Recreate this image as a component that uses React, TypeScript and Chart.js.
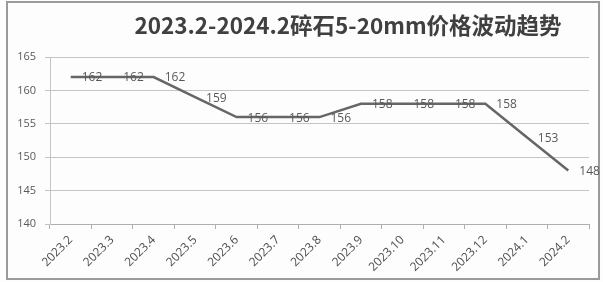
import { useEffect, useRef } from "react";
import { Chart, registerables } from "chart.js";

Chart.register(...registerables);

const titleText = "2023.2-2024.2碎石5-20mm价格波动趋势";
const categories = [
  "2023.2", "2023.3", "2023.4", "2023.5", "2023.6", "2023.7", "2023.8",
  "2023.9", "2023.10", "2023.11", "2023.12", "2024.1", "2024.2",
];
const prices = [162, 162, 162, 159, 156, 156, 156, 158, 158, 158, 158, 153, 148];
const yMin = 140;
const yMax = 165;
const yStep = 5;

const W = 603;
const H = 282;

export default function App() {
  const ref = useRef<HTMLCanvasElement | null>(null);

  useEffect(() => {
    const canvas = ref.current;
    if (!canvas) return;

    const framePlugin = {
      id: "frame",
      beforeDraw(chart: any) {
        const ctx = chart.ctx;
        ctx.save();
        ctx.fillStyle = "#fdfdfd";
        ctx.fillRect(0, 0, W, H);
        ctx.strokeStyle = "#9a9a9a";
        ctx.lineWidth = 2;
        ctx.strokeRect(7, 2, 592, 277);
        ctx.fillStyle = "#404040";
        ctx.font = "bold 22.5px 'Noto Sans CJK SC', sans-serif";
        ctx.textAlign = "center";
        ctx.textBaseline = "middle";
        ctx.fillText(titleText, 348, 25);
        ctx.restore();
      },
    };

    const labelPlugin = {
      id: "pointLabels",
      afterDatasetsDraw(chart: any) {
        const ctx = chart.ctx;
        const meta = chart.getDatasetMeta(0);
        ctx.save();
        ctx.fillStyle = "#595959";
        ctx.font = "12px 'Open Sans', sans-serif";
        ctx.textAlign = "left";
        ctx.textBaseline = "middle";
        meta.data.forEach((pt: any, i: number) => {
          ctx.fillText(String(prices[i]), pt.x + 11, pt.y + 1);
        });
        ctx.restore();
      },
    };

    const chart = new Chart(canvas, {
      type: "line",
      data: {
        labels: categories,
        datasets: [
          {
            data: prices,
            borderColor: "#666666",
            borderWidth: 2.5,
            pointRadius: 0,
            tension: 0,
            fill: false,
          },
        ],
      },
      options: {
        responsive: false,
        animation: false,
        layout: { padding: { top: 57, right: 14, left: 0, bottom: 0 } },
        plugins: {
          legend: { display: false },
          title: { display: false },
          tooltip: { enabled: false },
        },
        scales: {
          x: {
            type: "category",
            offset: true,
            grid: {
              offset: true,
              drawOnChartArea: false,
              tickLength: 5,
              color: "#b0b0b0",
            },
            border: { color: "#b0b0b0" },
            ticks: {
              minRotation: 45,
              maxRotation: 45,
              autoSkip: false,
              padding: 4,
              color: "#4d4d4d",
              font: { size: 12, family: "'Open Sans', sans-serif" },
            },
            afterFit(s: any) {
              s.height = 58;
            },
          },
          y: {
            min: yMin,
            max: yMax,
            ticks: {
              stepSize: yStep,
              padding: 9,
              color: "#595959",
              font: { size: 11, family: "'Open Sans', sans-serif" },
            },
            grid: { color: "#c4c4c4", tickLength: 5 },
            border: { color: "#c4c4c4" },
            afterFit(s: any) {
              s.width = 50;
            },
          },
        },
      },
      plugins: [framePlugin, labelPlugin],
    });

    return () => chart.destroy();
  }, []);

  return (
    <div style={{ position: "fixed", left: 0, top: 0, width: W, height: H, background: "#fdfdfd" }}>
      <canvas ref={ref} width={W} height={H} style={{ display: "block", width: W, height: H }} />
    </div>
  );
}
